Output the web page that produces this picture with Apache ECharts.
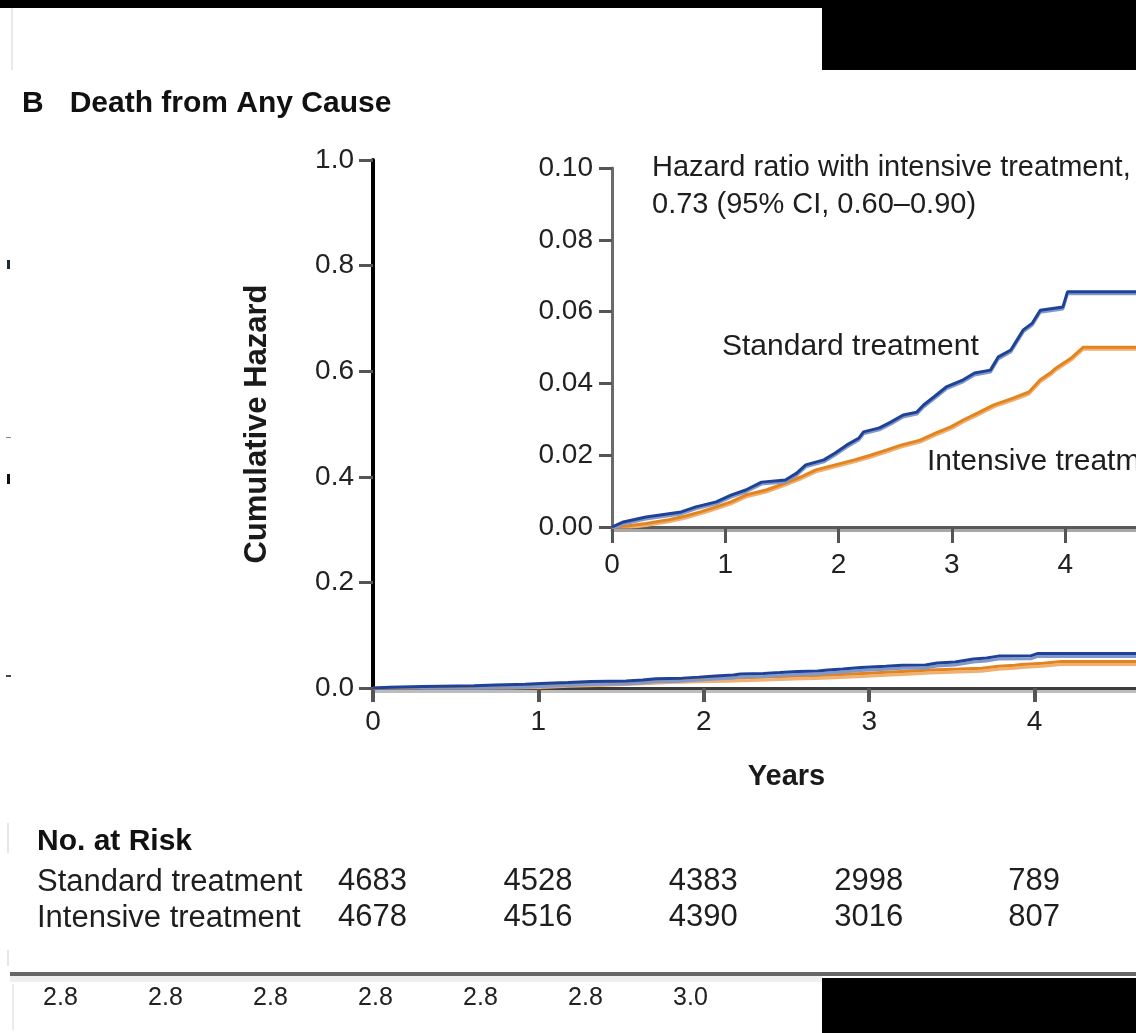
<!DOCTYPE html>
<html>
<head>
<meta charset="utf-8">
<script src="https://cdn.jsdelivr.net/npm/echarts@6.0.0/dist/echarts.min.js"></script>
<style>
html,body{margin:0;padding:0;background:#fff;}
#chart{width:1136px;height:1033px;}
</style>
</head>
<body>
<div id="chart"></div>
<script>
// ---- data ----
const standardYears = [0,0.1,0.3,0.61,0.74,0.92,1.05,1.18,1.32,1.53,1.63,1.71,1.87,1.97,2.07,2.18,2.22,2.36,2.46,2.57,2.69,2.75,2.84,2.95,3.1,3.2,3.34,3.41,3.52,3.63,3.71,3.78,3.98,4.02,4.8];
const standardHazard = [0,0.0014,0.0028,0.0042,0.0056,0.007,0.0089,0.0103,0.0125,0.0131,0.015,0.0173,0.0187,0.0206,0.0228,0.0248,0.0265,0.0276,0.0292,0.0312,0.032,0.034,0.0362,0.039,0.041,0.0429,0.0437,0.0474,0.0493,0.0549,0.0568,0.0604,0.0613,0.0655,0.0655];
const intensiveYears = [0,0.13,0.3,0.5,0.64,0.78,0.92,1.05,1.18,1.36,1.53,1.67,1.8,1.97,2.14,2.28,2.42,2.55,2.72,2.86,2.99,3.1,3.23,3.37,3.54,3.68,3.78,3.88,3.92,4.05,4.16,4.8];
const intensiveHazard = [0,0.0003,0.001,0.002,0.003,0.0042,0.0056,0.007,0.0089,0.0103,0.0122,0.014,0.0159,0.0173,0.0187,0.02,0.0214,0.0228,0.0242,0.0262,0.0279,0.0298,0.0318,0.034,0.0359,0.0376,0.041,0.0432,0.0443,0.047,0.0501,0.0501];
const riskYears = [0,1,2,3,4];
const riskGroups = ['Standard treatment','Intensive treatment'];
const riskStandard = [4683,4528,4383,2998,789];
const riskIntensive = [4678,4516,4390,3016,807];
const strayLabels = ['2.8','2.8','2.8','2.8','2.8','2.8','3.0'];

const FONT = '"Liberation Sans", Arial, sans-serif';
const BLUE = '#1e4297', BLUE_L = '#8198c9';
const ORANGE = '#e4841f', ORANGE_L = '#efb072';

function pairs(xs, ys){ return xs.map((x,i)=>[x, ys[i]]); }
const stdData = pairs(standardYears, standardHazard);
const intData = pairs(intensiveYears, intensiveHazard);
const riskData = [];
riskYears.forEach((y,i)=>{
  riskData.push([y, riskGroups[0], riskStandard[i]]);
  riskData.push([y, riskGroups[1], riskIntensive[i]]);
});

const chart = echarts.init(document.getElementById('chart'), null, {renderer:'canvas'});

function lineSeries(name, data, xi, yi, color, light, w, off){
  return {
    name, type:'line', data, xAxisIndex:xi, yAxisIndex:yi,
    showSymbol:false, symbol:'none', silent:true, z: 3,
    lineStyle:{color, width:w, shadowColor:light, shadowBlur:0, shadowOffsetY:off, shadowOffsetX:0}
  };
}

const option = {
  animation:false,
  backgroundColor:'#fff',
  textStyle:{fontFamily:FONT},
  title:{
    left:22, top:89, padding:0,
    text:'{b|B}{t|Death from Any Cause}',
    textStyle:{rich:{
      b:{fontFamily:FONT, fontSize:30, fontWeight:'bold', color:'#111'},
      t:{fontFamily:FONT, fontSize:30, fontWeight:'bold', color:'#111', padding:[0,0,0,26]}
    }}
  },
  grid:[
    {left:373, top:160, width:827, height:528, outerBoundsMode:'none', containLabel:false},
    {left:612, top:168, width:566.5, height:359, outerBoundsMode:'none', containLabel:false},
    {left:373, top:864, width:827, height:72, outerBoundsMode:'none', containLabel:false},
    {left:8, top:983, width:735, height:1, outerBoundsMode:'none', containLabel:false}
  ],
  xAxis:[
    {gridIndex:0, type:'value', min:0, max:5, interval:1,
     name:'Years', nameLocation:'middle', nameGap:74,
     nameTextStyle:{fontFamily:FONT, fontSize:29, fontWeight:'bold', color:'#1a1a1a'},
     axisLine:{show:true, lineStyle:{color:'#3c3c3c', width:3, shadowColor:'#bdbdbd', shadowBlur:0, shadowOffsetY:3}},
     axisTick:{show:true, length:14, lineStyle:{color:'#555', width:4}},
     axisLabel:{fontFamily:FONT, fontSize:28, color:'#222', margin:20},
     splitLine:{show:false}},
    {gridIndex:1, type:'value', min:0, max:5, interval:1,
     axisLine:{show:true, lineStyle:{color:'#5a5a5a', width:3, shadowColor:'#a8a8a8', shadowBlur:0, shadowOffsetY:3}},
     axisTick:{show:true, length:16, lineStyle:{color:'#555', width:3}},
     axisLabel:{fontFamily:FONT, fontSize:28, color:'#222', margin:24},
     splitLine:{show:false}},
    {gridIndex:2, type:'value', min:0, max:5, interval:1, show:false},
    {gridIndex:3, type:'category', data:strayLabels,
     axisLine:{show:false}, axisTick:{show:false},
     axisLabel:{fontFamily:FONT, fontSize:25, color:'#222', margin:2, interval:0}}
  ],
  yAxis:[
    {gridIndex:0, type:'value', min:0, max:1, interval:0.2,
     name:'Cumulative Hazard', nameLocation:'middle', nameGap:100,
     nameTextStyle:{fontFamily:FONT, fontSize:31, fontWeight:'bold', color:'#1a1a1a'},
     axisLine:{show:true, lineStyle:{color:'#000', width:4}},
     axisTick:{show:true, length:14, lineStyle:{color:'#555', width:3}},
     axisLabel:{fontFamily:FONT, fontSize:28, color:'#222', margin:19, formatter:v=>v.toFixed(1)},
     splitLine:{show:false}},
    {gridIndex:1, type:'value', min:0, max:0.1, interval:0.02,
     axisLine:{show:true, lineStyle:{color:'#6b6b6b', width:3}},
     axisTick:{show:true, length:13, lineStyle:{color:'#555', width:3}},
     axisLabel:{fontFamily:FONT, fontSize:28, color:'#222', margin:19, formatter:v=>v.toFixed(2)},
     splitLine:{show:false}},
    {gridIndex:2, type:'category', data:riskGroups, inverse:true,
     axisLine:{show:false}, axisTick:{show:false},
     axisLabel:{fontFamily:FONT, fontSize:31, color:'#1e1e1e', align:'left', margin:336, interval:0, hideOverlap:false}},
    {gridIndex:3, type:'value', show:false}
  ],
  series:[
    lineSeries('Intensive treatment', intData, 0, 0, ORANGE, ORANGE_L, 3, 3),
    lineSeries('Standard treatment', stdData, 0, 0, BLUE, BLUE_L, 3, 3),
    lineSeries('Intensive treatment (inset)', intData, 1, 1, ORANGE, ORANGE_L, 3, 2),
    lineSeries('Standard treatment (inset)', stdData, 1, 1, BLUE, BLUE_L, 3, 2),
    {type:'scatter', xAxisIndex:2, yAxisIndex:2, data:riskData, symbolSize:1, silent:true,
     itemStyle:{opacity:1, color:'rgba(0,0,0,0)'},
     label:{show:true, position:[0,0], align:'center', verticalAlign:'middle',
            fontFamily:FONT, fontSize:31, color:'#1e1e1e', opacity:1,
            formatter:p=>String(p.value[2])}}
  ],
  graphic:[
    {type:'rect', shape:{x:0,y:0,width:1136,height:8}, style:{fill:'#000'}, silent:true},
    {type:'rect', shape:{x:822,y:8,width:314,height:62}, style:{fill:'#000'}, silent:true},
    {type:'rect', shape:{x:822,y:978,width:314,height:55}, style:{fill:'#000'}, silent:true},
    {type:'line', shape:{x1:12,y1:8,x2:12,y2:70}, style:{stroke:'#d4d4d4', lineWidth:1}, silent:true},
    {type:'rect', shape:{x:10,y:972,width:1126,height:4}, style:{fill:'#666'}, silent:true},
    {type:'rect', shape:{x:10,y:976,width:812,height:6}, style:{fill:'#efefef'}, silent:true},
    {type:'line', shape:{x1:13,y1:984,x2:13,y2:1030}, style:{stroke:'#d8d8d8', lineWidth:1}, silent:true},
    {type:'line', shape:{x1:8,y1:823,x2:8,y2:853}, style:{stroke:'#e6e6e6', lineWidth:2}, silent:true},
    {type:'line', shape:{x1:8,y1:950,x2:8,y2:966}, style:{stroke:'#e6e6e6', lineWidth:2}, silent:true},
    {type:'rect', shape:{x:7,y:260,width:3,height:9}, style:{fill:'#1c2a3a'}, silent:true},
    {type:'rect', shape:{x:6,y:437,width:5,height:1}, style:{fill:'#888'}, silent:true},
    {type:'rect', shape:{x:7,y:474,width:3,height:10}, style:{fill:'#111'}, silent:true},
    {type:'rect', shape:{x:6,y:675,width:5,height:2}, style:{fill:'#444'}, silent:true},
    {type:'text', x:652, y:168, silent:true,
     style:{text:'Hazard ratio with intensive treatment,', font:'29px '+FONT, fill:'#1e1e1e', verticalAlign:'middle', align:'left'}},
    {type:'text', x:652, y:205, silent:true,
     style:{text:'0.73 (95% CI, 0.60\u20130.90)', font:'29px '+FONT, fill:'#1e1e1e', verticalAlign:'middle', align:'left'}},
    {type:'text', x:722, y:347, silent:true,
     style:{text:'Standard treatment', font:'30px '+FONT, fill:'#1e1e1e', verticalAlign:'middle', align:'left'}},
    {type:'text', x:927, y:462, silent:true,
     style:{text:'Intensive treatment', font:'30px '+FONT, fill:'#1e1e1e', verticalAlign:'middle', align:'left'}},
    {type:'text', x:37, y:842, silent:true,
     style:{text:'No. at Risk', font:'bold 30px '+FONT, fill:'#111', verticalAlign:'middle', align:'left'}}
  ]
};
chart.setOption(option);
</script>
</body>
</html>
